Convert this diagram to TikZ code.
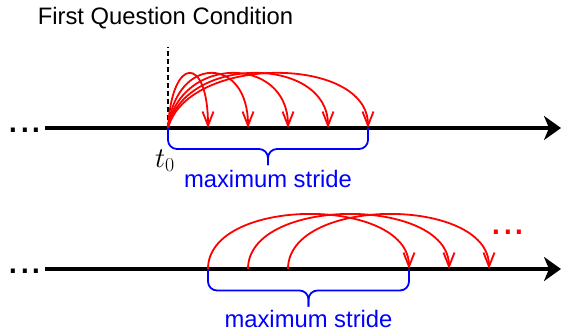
\documentclass[tikz,border=0pt]{standalone}
\usepackage{fontspec}
\setmainfont{Liberation Sans}
\usetikzlibrary{calc, arrows.meta, positioning}

\begin{document}
\begin{tikzpicture}[
    x=1pt, y=1pt,
    axis/.style={line width=4.5pt, -{Stealth[length=17pt,width=24pt,inset=5pt]}},
    jump/.style={red, line width=1.8pt, -{Straight Barb[length=14pt,width=11pt]}},
    stride/.style={blue, line width=1.8pt, rounded corners=9pt},
    lbl/.style={font=\fontsize{23.8}{28}\selectfont, inner sep=0pt},
    more/.style={font=\fontsize{42}{42}\selectfont, inner sep=0pt},
]
  \useasboundingbox (0,0) rectangle (561,335);

  % first question
  \node[lbl, anchor=base] (title) at (165.5,310) {First Question Condition};
  \coordinate (start1) at (45,207);
  \coordinate (end1) at (561,207);
  \coordinate (t0) at (168,207);
  \coordinate (qtop) at (168,288);
  \draw[axis] (start1) -- (end1);
  \node[more] (dots1) at (25,205) {...};
  \draw[dash pattern=on 5pt off 3pt, line width=2pt] (t0) -- (qtop);
  \node[font=\fontsize{24}{28}\selectfont, inner sep=0pt, scale=1.15] (t0lbl) at ($(t0)+(-3,-33)$) {$t_0$};
  \foreach \i in {1,...,5}{
    \coordinate (hit\i) at ($(t0)+(40*\i,0)$);
    \draw[jump] (t0) .. controls ($(t0)+(4*\i,73)$) and ($(hit\i)+(0,73)$) .. (hit\i);
  }
  \coordinate (mid1) at ($(t0)!0.5!(hit5)+(0,-21)$);
  \draw[stride] (t0) |- (mid1) -- ++(0,-16);
  \draw[stride] (hit5) |- (mid1) -- ++(0,-16);
  \node[lbl, blue, anchor=base] (stride1) at ($(mid1)+(0,-38)$) {maximum stride};

  % later questions
  \coordinate (start2) at (45,66);
  \coordinate (end2) at (561,66);
  \draw[axis] (start2) -- (end2);
  \node[more] (dots2) at (25,64) {...};
  \foreach \i in {1,2,3}{
    \coordinate (src\i) at (168+40*\i,66);
    \coordinate (dst\i) at (369+40*\i,66);
    \draw[jump] (src\i) to[out=90, in=90, looseness=0.93] (dst\i);
  }
  \node[more, red] (dots3) at (508,103) {...};
  \coordinate (mid2) at ($(src1)!0.5!(dst1)+(0,-21.5)$);
  \draw[stride] (src1) |- (mid2) -- ++(0,-16);
  \draw[stride] (dst1) |- (mid2) -- ++(0,-16);
  \node[lbl, blue, anchor=base] (stride2) at ($(mid2)+(0,-36.5)$) {maximum stride};
\end{tikzpicture}
\end{document}
